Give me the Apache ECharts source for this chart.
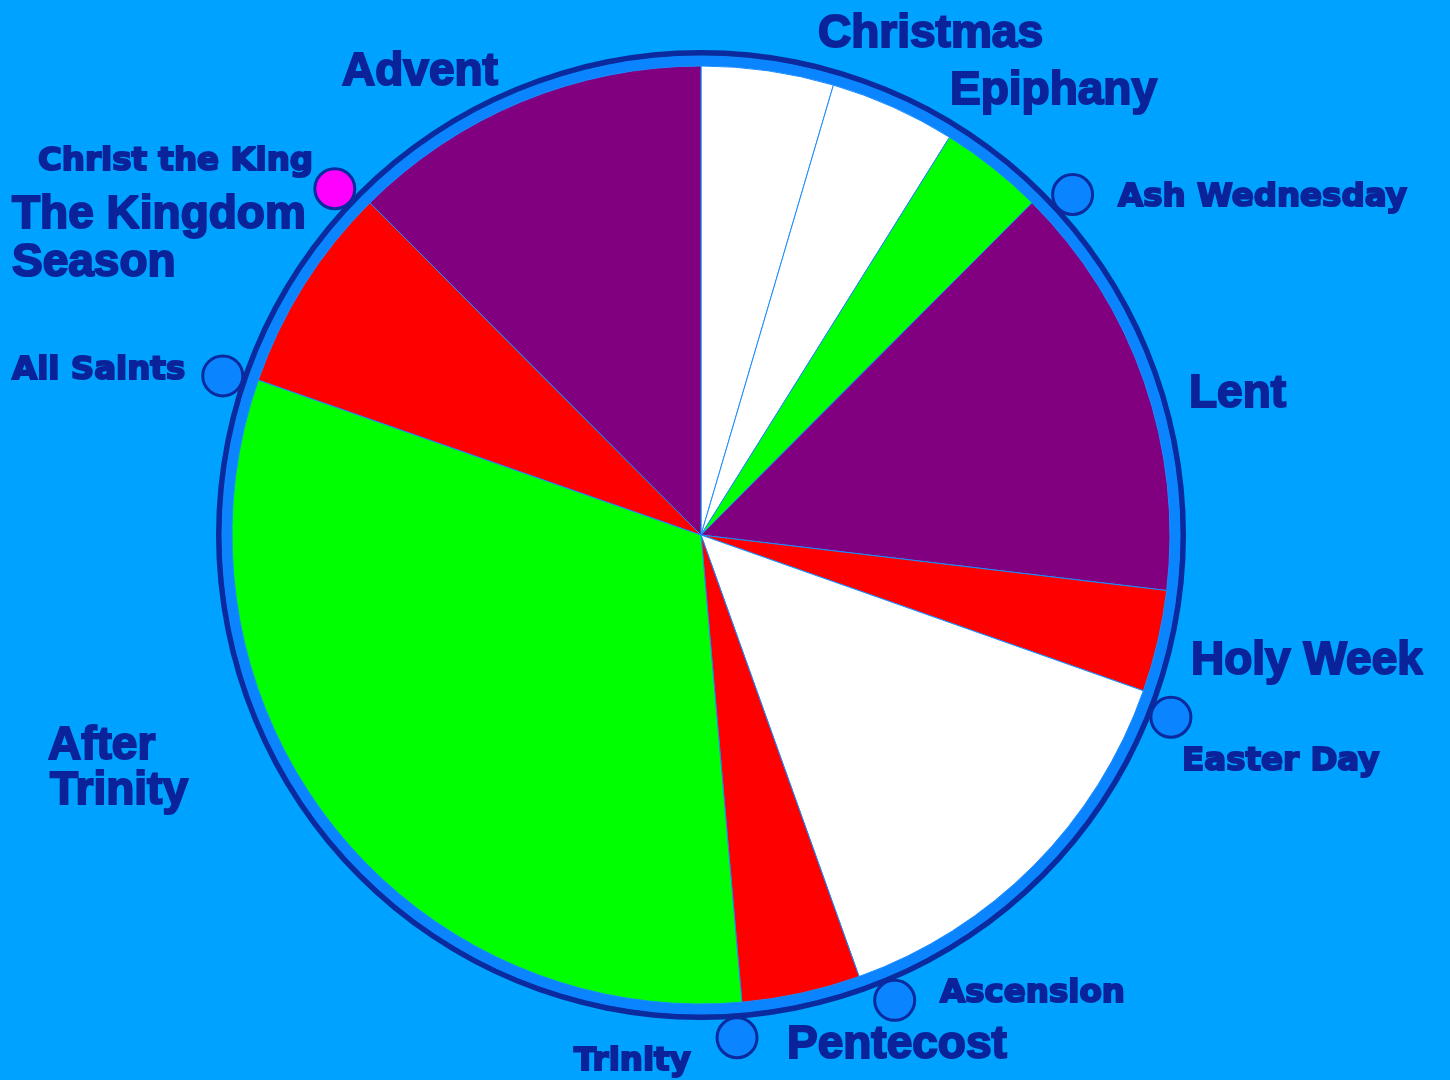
<!DOCTYPE html>
<html>
<head>
<meta charset="utf-8">
<script src="https://cdn.jsdelivr.net/npm/echarts@6/dist/echarts.min.js"></script>
<style>
html,body{margin:0;padding:0;background:#00a2ff;}
#chart{width:1450px;height:1080px;}
</style>
</head>
<body>
<div id="chart"></div>
<script>
// ---- data ----
const seasons = ['Christmas', 'Epiphany', 'Ordinary Time', 'Lent', 'Holy Week', 'Easter', 'Pentecost', 'After Trinity', 'The Kingdom Season', 'Advent'];
const seasonValues = [16.4, 15.6, 12.9, 51.9, 12.6, 50.9, 14.7, 114.3, 25.8, 44.9];
const seasonColors = ['#ffffff', '#ffffff', '#00ff00', '#800080', '#ff0000', '#ffffff', '#ff0000', '#00ff00', '#ff0000', '#800080'];
const feasts = ['Ash Wednesday', 'Easter Day', 'Ascension', 'Trinity', 'All Saints', 'Christ the King'];
const feastAngles = [47.5, 111.2, 157.4, 175.9, 288.4, 313.4];
const feastColors = ['#0a84ff', '#0a84ff', '#0a84ff', '#0a84ff', '#0a84ff', '#ff00ff'];

// ---- layout (text positions) ----
const NAVY = '#0a239a';
const bigFont = 'bold 46px "Liberation Sans", Arial, sans-serif';
const smallFont = 'bold 32.5px "DejaVu Sans", Verdana, sans-serif';
const textItems = [
  ['Christmas', 818, 34, bigFont],
  ['Epiphany', 950, 91, bigFont],
  ['Advent', 342, 72, bigFont],
  ['The Kingdom', 12, 215, bigFont],
  ['Season', 12, 263, bigFont],
  ['Lent', 1189, 394, bigFont],
  ['Holy Week', 1191, 661, bigFont],
  ['After', 48, 746, bigFont],
  ['Trinity', 50, 791, bigFont],
  ['Pentecost', 787, 1045, bigFont],
  ['Christ the King', 38, 162, smallFont],
  ['All Saints', 12, 371, smallFont],
  ['Ash Wednesday', 1118, 198, smallFont],
  ['Easter Day', 1182, 762, smallFont],
  ['Ascension', 940, 994, smallFont],
  ['Trinity', 574, 1062, smallFont]
];

const CENTER = [701, 535];

const chart = echarts.init(document.getElementById('chart'));
chart.setOption({
  backgroundColor: '#00a2ff',
  animation: false,
  polar: { center: CENTER, radius: 504 },
  angleAxis: { type: 'value', min: 0, max: 360, startAngle: 90, clockwise: true, show: false },
  radiusAxis: { type: 'value', min: 0, max: 1, show: false },
  series: [
    {
      type: 'pie', center: CENTER, radius: [479, 485], silent: true,
      label: { show: false }, labelLine: { show: false },
      itemStyle: { color: '#0a2a9e' },
      data: [{ value: 1, name: 'ring-outer' }]
    },
    {
      type: 'pie', center: CENTER, radius: [466, 479.5], silent: true,
      label: { show: false }, labelLine: { show: false },
      itemStyle: { color: '#0a84ff' },
      data: [{ value: 1, name: 'ring-inner' }]
    },
    {
      type: 'pie', center: CENTER, radius: [0, 469], startAngle: 90, clockwise: true,
      avoidLabelOverlap: false, silent: true,
      label: { show: false }, labelLine: { show: false },
      itemStyle: { borderColor: '#1a8cff', borderWidth: 1 },
      data: seasons.map((s, i) => ({ name: s, value: seasonValues[i], itemStyle: { color: seasonColors[i] } }))
    },
    {
      type: 'scatter', coordinateSystem: 'polar', symbol: 'circle', symbolSize: 40, silent: true,
      itemStyle: { borderColor: '#0a2a9e', borderWidth: 3, opacity: 1 },
      data: feasts.map((f, i) => ({ name: f, value: [1, feastAngles[i]], itemStyle: { color: feastColors[i] } }))
    }
  ],
  graphic: textItems.map(t => ({
    type: 'text', x: t[1], y: t[2], silent: true,
    style: { text: t[0], font: t[3], fill: NAVY, stroke: NAVY, lineWidth: 2, align: 'left', verticalAlign: 'middle' }
  }))
});
</script>
</body>
</html>
